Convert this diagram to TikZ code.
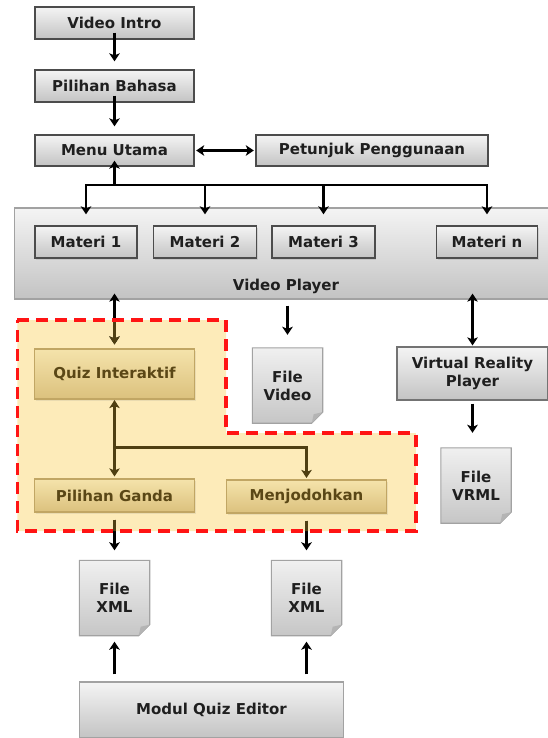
\documentclass[tikz,border=0pt]{standalone}
\usepackage{fontspec}
\setmainfont{DejaVu Sans}
\usetikzlibrary{arrows.meta,backgrounds,shadows}

\definecolor{boxtop}{HTML}{F4F4F4}
\definecolor{boxbot}{HTML}{C3C3C3}
\definecolor{boxline}{HTML}{4C4C4C}
\definecolor{softline}{HTML}{A2A2A2}
\definecolor{quizfill}{HTML}{FDEBB9}
\definecolor{quiztop}{HTML}{F5E3AB}
\definecolor{quizbot}{HTML}{DBC17D}
\definecolor{quizline}{HTML}{C1A664}
\definecolor{quiztext}{HTML}{5A4716}
\definecolor{quizarrow}{HTML}{4F3F12}
\definecolor{dashred}{HTML}{FF1414}
\definecolor{doctop}{HTML}{F0F0F0}
\definecolor{docbot}{HTML}{C6C6C6}
\definecolor{foldgrey}{HTML}{B4B4B4}

\begin{document}
\begin{tikzpicture}[x=1pt,y=-1pt,
  lbl/.style={font=\bfseries\fontsize{15}{18}\selectfont, text=black!88, align=center, inner sep=0pt},
  box/.style={lbl, draw=boxline, line width=1.3pt, top color=boxtop, bottom color=boxbot,
    drop shadow={shadow xshift=1pt, shadow yshift=-1.5pt, opacity=0.22}},
  softbox/.style={lbl, draw=softline, line width=1.2pt, top color=boxtop, bottom color=boxbot},
  quizbox/.style={lbl, text=quiztext, draw=quizline, line width=1.2pt, top color=quiztop, bottom color=quizbot,
    drop shadow={shadow xshift=1pt, shadow yshift=-1.5pt, opacity=0.15}},
  doc/.style={lbl, minimum width=70pt, minimum height=75pt},
  conn/.style={line width=2.9pt, draw=black},
  arr/.style={conn, -{Stealth[length=8pt,width=10.5pt,inset=2pt]}},
  darr/.style={conn, {Stealth[length=8pt,width=10.5pt,inset=2pt]}-{Stealth[length=8pt,width=10.5pt,inset=2pt]}},
  brown/.style={draw=quizarrow},
  region/.style={fill=quizfill}
]
\useasboundingbox (0,0) rectangle (547,738);

% quiz area
\fill[region] (17.4,320) -- (226,320) -- (226,433) -- (415.8,433) -- (415.8,531) -- (17.4,531) -- cycle;

% top chain
\node[box, minimum width=159pt, minimum height=32pt] (vi) at (114.5,23) {Video Intro};
\node[box, minimum width=159pt, minimum height=32pt] (pb) at (114.5,86) {Pilihan Bahasa};
\node[box, minimum width=159pt, minimum height=31pt] (mu) at (114.5,150.5) {Menu Utama};
\node[box, minimum width=232pt, minimum height=31pt] (pp) at (372,150.5) {Petunjuk Penggunaan};

% video player with the lessons
\node[softbox, minimum width=536pt, minimum height=91pt] (vp) at (282.6,253.5) {};
\node[lbl] (vplab) at (286,286) {Video Player};
\node[box, minimum width=102pt, minimum height=32pt] (m1) at (86,242) {Materi 1};
\node[box, minimum width=103pt, minimum height=32pt] (m2) at (205,242) {Materi 2};
\node[box, minimum width=103pt, minimum height=32pt] (m3) at (323.5,242) {Materi 3};
\node[box, minimum width=101pt, minimum height=32pt] (mn) at (487,242) {Materi n};

% outputs of the player
\node[doc] (fvid) at (287.5,385.5) {File\\Video};
\node[softbox, draw=black!55, minimum width=151pt, minimum height=53pt] (vr) at (472.5,373.5) {Virtual Reality\\Player};
\node[doc] (vrml) at (476,485.5) {File\\VRML};

% quiz part
\node[quizbox, minimum width=160pt, minimum height=50pt] (qi) at (114.5,374) {Quiz Interaktif};
\node[quizbox, minimum width=160pt, minimum height=33pt] (pg) at (114.5,495.5) {Pilihan Ganda};
\node[quizbox, minimum width=160pt, minimum height=33pt] (mj) at (306.5,496.5) {Menjodohkan};

\node[doc] (xml1) at (114.5,598) {File\\XML};
\node[doc] (xml2) at (306.5,598) {File\\XML};
\node[softbox, minimum width=264pt, minimum height=56pt] (mqe) at (211.5,710) {Modul Quiz Editor};

% document sheets with a folded corner
\begin{scope}[on background layer]
  \foreach \d in {fvid,vrml,xml1,xml2}{
    \shade[top color=doctop, bottom color=docbot, draw=softline, line width=1.1pt]
      (\d.north west) -- (\d.north east) -- ([yshift=11pt]\d.south east)
      -- ([xshift=-11pt]\d.south east) -- (\d.south west) -- cycle;
    \fill[foldgrey] ([yshift=11pt]\d.south east) -- ([xshift=-11pt]\d.south east)
      -- ([xshift=-9pt,yshift=9pt]\d.south east) -- cycle;
  }
\end{scope}

% connectors of the menu
\coordinate (kmid) at (114.5,185);
\coordinate (k1) at (86,185);
\coordinate (k2) at (205,185);
\coordinate (k3) at (323.5,185);
\coordinate (kn) at (487,185);

\draw[arr, shorten <=-7pt, shorten >=8pt] (vi) -- (pb);
\draw[arr, shorten <=-7pt, shorten >=8pt] (pb) -- (mu);
\draw[darr, shorten <=1.5pt, shorten >=1.5pt] (mu) -- (pp);
\draw[arr, shorten >=-6pt] (kmid) -- (mu);
\draw[arr, shorten >=11pt] (kmid) -- (k1) -- (m1);
\draw[arr, shorten >=11pt] (kmid) -- (kn) -- (mn);
\draw[arr, shorten >=11pt] (k2) -- (m2);
\draw[arr, shorten >=11pt] (k3) -- (m3);

% connectors below the player
\draw[darr, shorten <=-6pt, shorten >=4pt] (vp.south -| qi.north) -- (qi.north);
\draw[arr, shorten <=6pt, shorten >=13pt] (vp.south -| fvid.north) -- (fvid.north);
\draw[darr, shorten <=-6pt, shorten >=1pt] (vp.south -| vr.north) -- (vr.north);
\draw[arr, shorten <=3pt, shorten >=15pt] (vr.south) -- (vr.south |- vrml.north);

% quiz connectors
\coordinate (qb) at (114.5,447.7);
\draw[darr, brown, shorten <=0.5pt, shorten >=2pt] (qi) -- (pg);
\draw[arr, brown, shorten >=1.5pt] (qb) -- (qb -| mj.north) -- (mj.north);
\draw[arr, shorten <=7pt, shorten >=10pt] (pg) -- (xml1);
\draw[arr, shorten <=7pt, shorten >=10pt] (mj.south) -- (mj.south |- xml2.north);
\draw[arr, shorten <=7pt, shorten >=6pt] (mqe.north -| xml1.south) -- (xml1.south);
\draw[arr, shorten <=7pt, shorten >=6pt] (mqe.north -| xml2.south) -- (xml2.south);

% tint of the arrows inside the quiz area
\begin{scope}
  \clip (17.4,320) -- (226,320) -- (226,433) -- (415.8,433) -- (415.8,531) -- (17.4,531) -- cycle;
  \draw[darr, brown, shorten <=-6pt, shorten >=4pt] (vp.south -| qi.north) -- (qi.north);
  \draw[arr, brown, shorten <=7pt, shorten >=10pt] (pg) -- (xml1);
  \draw[arr, brown, shorten <=7pt, shorten >=10pt] (mj.south) -- (mj.south |- xml2.north);
\end{scope}

% border of the quiz area
\draw[dashred, line width=3.4pt, dash pattern=on 12pt off 7pt]
  (17.4,320) -- (226,320) -- (226,433) -- (415.8,433) -- (415.8,531) -- (17.4,531) -- cycle;
\end{tikzpicture}
\end{document}
